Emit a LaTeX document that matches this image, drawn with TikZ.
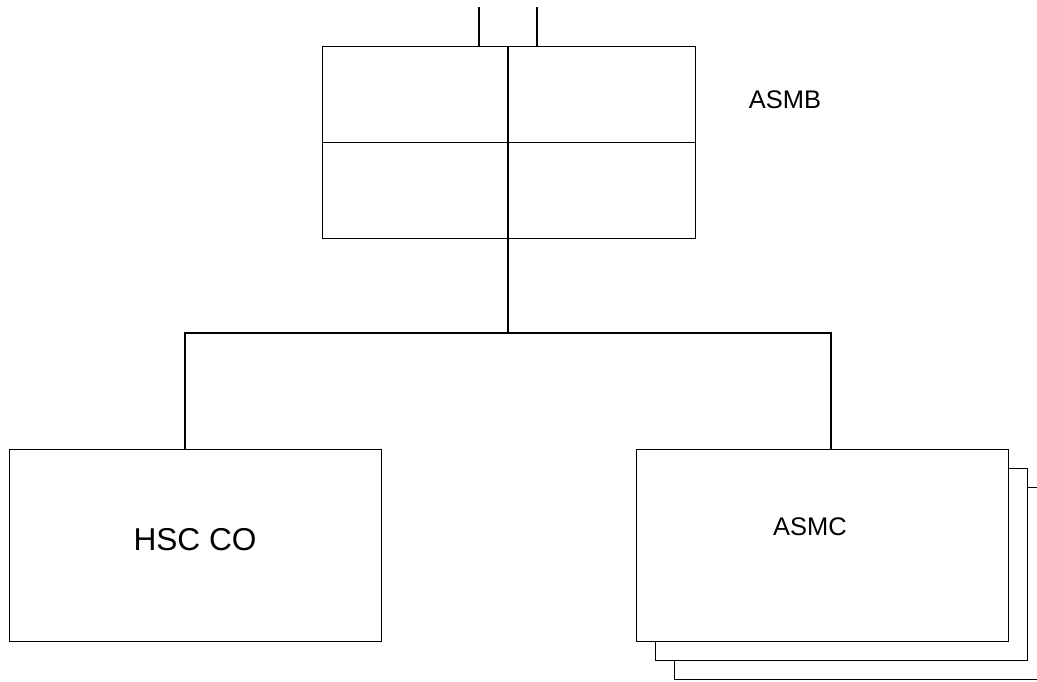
\documentclass[tikz,border=0pt]{standalone}
\usepackage{fontspec}
\setmainfont{Liberation Sans}
\begin{document}
\begin{tikzpicture}[x=0.02cm,y=-0.02cm,
  box/.style={draw,line width=0.8pt,fill=white,minimum width=7.44cm,minimum height=3.84cm,inner sep=0pt},
  conn/.style={line width=0.8pt}]
\useasboundingbox (0,0) rectangle (1037,681);
% ASMB
\node[box,minimum width=7.46cm,anchor=north west] (asmb) at (322,46) {};
\draw[conn] (asmb.west) -- (asmb.east);
\coordinate (asmbtopmid) at (508,46);
\coordinate (asmbbotmid) at (508,238);
\draw[conn] (asmbtopmid) -- (asmbbotmid);
\node[font=\fontsize{14.5}{17}\selectfont] (asmblabel) at (785,100) {ASMB};
\coordinate (in1) at (479,7);
\coordinate (in2) at (537,7);
\draw[conn] (in1) -- (in1 |- asmb.north);
\draw[conn] (in2) -- (in2 |- asmb.north);
% HSC CO
\node[box,anchor=north west] (hsc) at (9,449) {};
\node[font=\fontsize{18}{21}\selectfont] (hsclabel) at (195,540) {HSC CO};
% ASMC stack
\node[box,anchor=north west] (asmc3) at (674,487) {};
\node[box,anchor=north west] (asmc2) at (655,468) {};
\node[box,anchor=north west] (asmc) at (636,449) {};
\node[font=\fontsize{14.5}{17}\selectfont] (asmclabel) at (810,527) {ASMC};
% connectors
\coordinate (j) at (508,333);
\coordinate (hsctop) at (185,449);
\coordinate (asmctop) at (831,449);
\draw[conn] (asmbbotmid) -- (j);
\draw[conn] (j) -| (hsctop);
\draw[conn] (j) -| (asmctop);
\end{tikzpicture}
\end{document}
